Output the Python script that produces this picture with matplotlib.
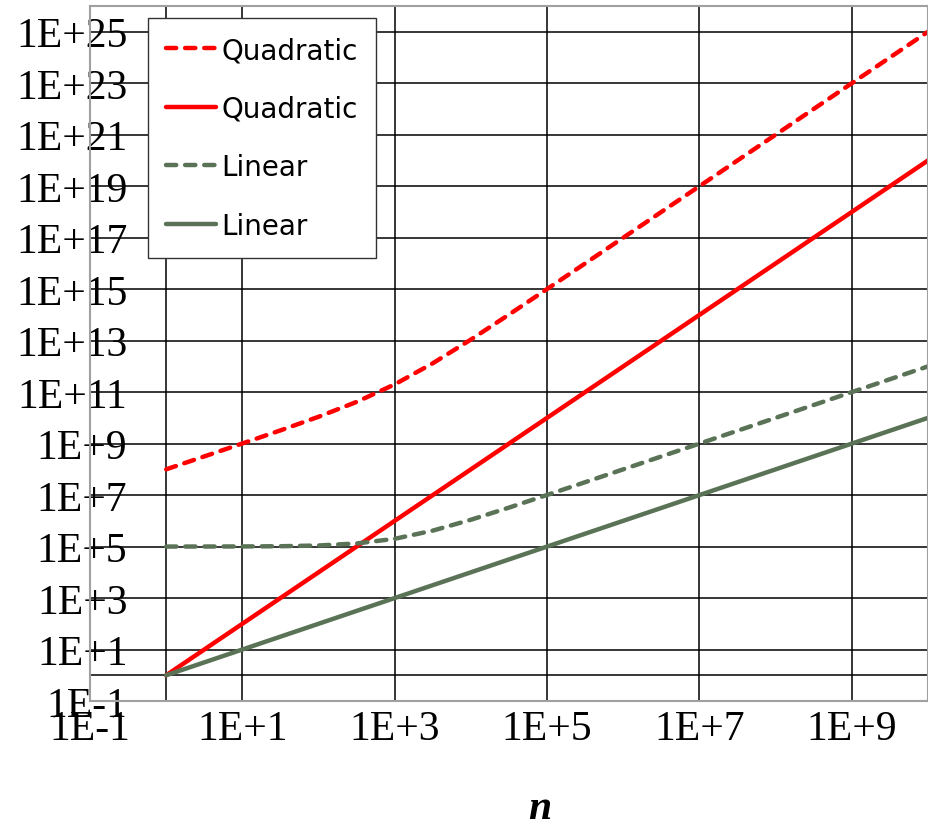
import matplotlib.pyplot as plt

# problem size n, one point per half decade
n = [1, 3.162, 10, 31.62, 100, 316.2, 1e3, 3162, 1e4, 31623, 1e5, 316228,
     1e6, 1e7, 1e8, 1e9, 1e10]

quad_dashed = [1e8, 3.17e8, 1.01e9, 3.26e9, 1.1e10, 4.16e10, 2e11, 1.32e12,
               1.1e13, 1.03e14, 1.01e15, 1e16, 1e17, 1e19, 1e21, 1e23, 1e25]
quad_solid = [1, 10, 1e2, 1e3, 1e4, 1e5, 1e6, 1e7, 1e8, 1e9, 1e10, 1e11,
              1e12, 1e14, 1e16, 1e18, 1e20]
lin_dashed = [1.0e5, 1.003e5, 1.01e5, 1.03e5, 1.1e5, 1.32e5, 2e5, 4.16e5,
              1.1e6, 3.26e6, 1.01e7, 3.17e7, 1e8, 1e9, 1e10, 1e11, 1e12]
lin_solid = [1, 3.162, 10, 31.62, 100, 316.2, 1e3, 3162, 1e4, 31623, 1e5,
             316228, 1e6, 1e7, 1e8, 1e9, 1e10]

# labelled (and gridded) decades: odd exponents only
x_exps = list(range(-1, 11, 2))
y_exps = list(range(-1, 26, 2))

red = "#ff0000"
green = "#5a7356"

fig = plt.figure(figsize=(9.29, 8.29), dpi=100, facecolor="white")
ax = fig.add_axes([90 / 929, 1 - 702 / 829, 838 / 929, 695 / 829])
ax.set_xscale("log")
ax.set_yscale("log")
ax.set_xlim(1e-1, 1e10)
ax.set_ylim(1e-1, 1e26)

dash = dict(dashes=(2.3, 2.0), dash_capstyle="round")
ax.plot(n, quad_dashed, color=red, lw=3.2, label="Quadratic", **dash)
ax.plot(n, quad_solid, color=red, lw=3.2, label="Quadratic", solid_capstyle="round")
ax.plot(n, lin_dashed, color=green, lw=3.2, label="Linear", **dash)
ax.plot(n, lin_solid, color=green, lw=3.2, label="Linear", solid_capstyle="round")

ax.set_xticks([10.0 ** e for e in x_exps])
ax.set_xticklabels(["1E%+d" % e for e in x_exps])
ax.set_yticks([10.0 ** e for e in y_exps])
ax.set_yticklabels(["1E%+d" % e for e in y_exps])
ax.minorticks_off()
ax.grid(True, color="black", lw=1.1)
ax.set_axisbelow(True)

# the axes themselves cross at n = 1, value = 1
ax.axhline(1, color="black", lw=1.1, zorder=0.6)
ax.axvline(1, color="black", lw=1.1, zorder=0.6)

ax.tick_params(axis="both", length=0, labelsize=30)
ax.tick_params(axis="y", pad=-27)
ax.tick_params(axis="x", pad=6)
for lab in ax.get_xticklabels() + ax.get_yticklabels():
    lab.set_fontfamily("Liberation Serif")

for s in ax.spines.values():
    s.set_color("#a0a0a0")
    s.set_linewidth(1.5)

leg = ax.legend(loc="upper left", bbox_to_anchor=((148 - 90) / 838, (702 - 19) / 695),
                borderaxespad=0, frameon=True, fancybox=False, framealpha=1,
                edgecolor="#333333", handlelength=1.8, handletextpad=0.2,
                labelspacing=1.1, borderpad=0.65,
                prop=dict(family="DejaVu Sans", size=20))
leg.get_frame().set_linewidth(1.0)

fig.text(540 / 929, 1 - 809 / 829, "n", ha="center", va="center",
         family="Liberation Serif", style="italic", weight="bold", size=30)

fig.savefig("out.png", dpi=100, facecolor="white")
